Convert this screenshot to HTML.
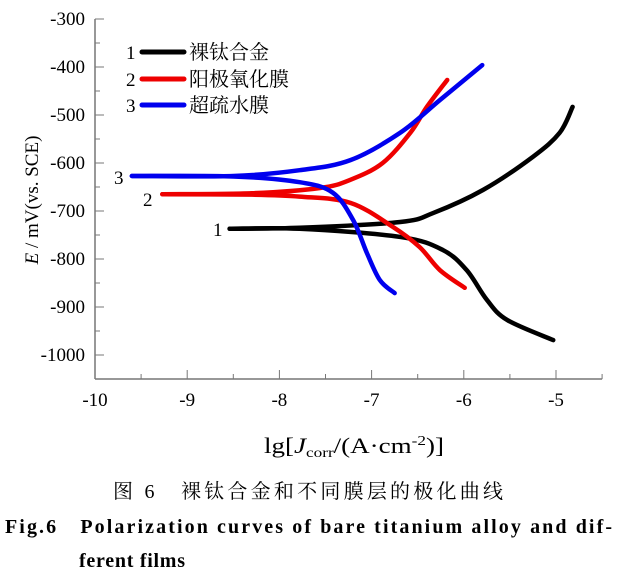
<!DOCTYPE html>
<html><head><meta charset="utf-8"><style>
body{margin:0;background:#fff;width:619px;height:584px;overflow:hidden}
svg{display:block}
text{font-family:"Liberation Serif","Noto Serif CJK SC",serif}
</style></head><body>
<svg width="619" height="584">
<g id="axes"></g><g id="series"></g>
<g>
 <text x="126" y="59" font-size="19">1</text>
 <line x1="142" y1="52" x2="184" y2="52" stroke="#000" stroke-width="5" stroke-linecap="round"/>
 <text x="189" y="59" font-size="20" font-family="Noto Sans CJK SC">裸钛合金</text>
 <text x="126" y="86" font-size="19">2</text>
 <line x1="142" y1="79" x2="184" y2="79" stroke="#e00" stroke-width="5" stroke-linecap="round"/>
 <text x="189" y="86" font-size="20" font-family="Noto Sans CJK SC">阳极氧化膜</text>
 <text x="126" y="112" font-size="19">3</text>
 <line x1="142" y1="105" x2="184" y2="105" stroke="#00e" stroke-width="5" stroke-linecap="round"/>
 <text x="189" y="112" font-size="20" font-family="Noto Sans CJK SC">超疏水膜</text>
</g>
<text x="114" y="184" font-size="19">3</text>
<text x="143" y="206" font-size="19">2</text>
<text x="213" y="236" font-size="19">1</text>
<text transform="translate(38,200) rotate(-90)" text-anchor="middle" font-size="19"><tspan font-style="italic">E</tspan> / mV(vs. SCE)</text>
<text x="264" y="453" font-size="22" textLength="180" lengthAdjust="spacingAndGlyphs">lg[<tspan font-style="italic">J</tspan><tspan font-size="14" dy="4">corr</tspan><tspan dy="-4">/(A·cm</tspan><tspan font-size="14" dy="-8">-2</tspan><tspan dy="8">)]</tspan></text>
<text x="113" y="498" font-size="20" textLength="390" lengthAdjust="spacing">图 6　裸钛合金和不同膜层的极化曲线</text>
<text x="5" y="533" font-size="20" font-weight="bold" textLength="607" lengthAdjust="spacing">Fig.6　Polarization curves of bare titanium alloy and dif-</text>
<text x="79" y="567" font-size="20" font-weight="bold" textLength="106" lengthAdjust="spacing">ferent films</text>
</svg>
<script>
const xTicks=[-10,-9,-8,-7,-6,-5];
const yTicks=[-300,-400,-500,-600,-700,-800,-900,-1000];
const s1Anodic=[[-8.54,-737],[-7.78,-735],[-6.69,-723],[-6.33,-704],[-5.79,-656],[-5.25,-587],[-4.96,-537],[-4.82,-483]];
const s1Cathodic=[[-8.54,-737],[-7.78,-737],[-6.69,-754],[-6.23,-781],[-5.97,-823],[-5.75,-885],[-5.53,-927],[-5.03,-969]];
const s2Anodic=[[-9.27,-665],[-8.3,-663],[-7.56,-652],[-7.23,-635],[-6.88,-600],[-6.58,-537],[-6.40,-483],[-6.18,-427]];
const s2Cathodic=[[-9.27,-665],[-8.3,-666],[-7.78,-670],[-7.23,-683],[-6.77,-733],[-6.48,-775],[-6.26,-823],[-5.99,-860]];
const s3Anodic=[[-9.60,-627],[-8.5,-627],[-7.78,-615],[-7.23,-594],[-6.69,-537],[-6.26,-469],[-5.80,-396]];
const s3Cathodic=[[-9.60,-627],[-8.5,-628],[-7.78,-640],[-7.42,-662],[-7.20,-719],[-7.05,-788],[-6.91,-844],[-6.75,-871]];
const NS='http://www.w3.org/2000/svg';
const X=v=>95+(v+10)*92.2, Y=v=>19+(-300-v)*0.48;
const ax=document.getElementById('axes'), se=document.getElementById('series');
function mk(t,a,p){const e=document.createElementNS(NS,t);for(const k in a)e.setAttribute(k,a[k]);p.appendChild(e);return e;}
const ya=mk('line',{x1:95,y1:19,x2:95,y2:379,stroke:'#777','stroke-width':1.5},ax);


const xa=mk('line',{x1:95,y1:379,x2:X(-4.5),y2:379,stroke:'#777','stroke-width':1.5},ax);


for(let v=-1050;v<=-300;v+=50){const major=v%100===0;mk('line',{x1:95,x2:95+(major?9:5),y1:Y(v),y2:Y(v),stroke:'#777'},ax);}
for(let v=-10;v<=-4.5;v+=0.5){const major=Number.isInteger(v);mk('line',{x1:X(v),x2:X(v),y1:379,y2:379-(major?9:5),stroke:'#777'},ax);}
yTicks.forEach(v=>{const t=mk('text',{x:85,y:Y(v)+6,'text-anchor':'end','font-size':19},ax);t.textContent=v;

});
xTicks.forEach(v=>{const t=mk('text',{x:X(v),y:406,'text-anchor':'middle','font-size':19},ax);t.textContent=v;

});
function path(pts){const p=pts.map(d=>[X(d[0]),Y(d[1])]);let s='M'+p[0][0]+','+p[0][1];
for(let i=0;i<p.length-1;i++){const p0=p[Math.max(0,i-1)],p1=p[i],p2=p[i+1],p3=p[Math.min(p.length-1,i+2)];
s+=' C'+(p1[0]+(p2[0]-p0[0])/6)+','+(p1[1]+(p2[1]-p0[1])/6)+' '+(p2[0]-(p3[0]-p1[0])/6)+','+(p2[1]-(p3[1]-p1[1])/6)+' '+p2[0]+','+p2[1];}return s;}
[[s1Anodic,'#000','series-1-anodic'],[s1Cathodic,'#000','series-1-cathodic'],[s2Anodic,'#e00','series-2-anodic'],[s2Cathodic,'#e00','series-2-cathodic'],[s3Anodic,'#00e','series-3-anodic'],[s3Cathodic,'#00e','series-3-cathodic']].forEach(([d,c,n])=>{
const e=mk('path',{d:path(d),fill:'none',stroke:c,'stroke-width':4.5,'stroke-linecap':'round'},se);

});
</script>
</body></html>
